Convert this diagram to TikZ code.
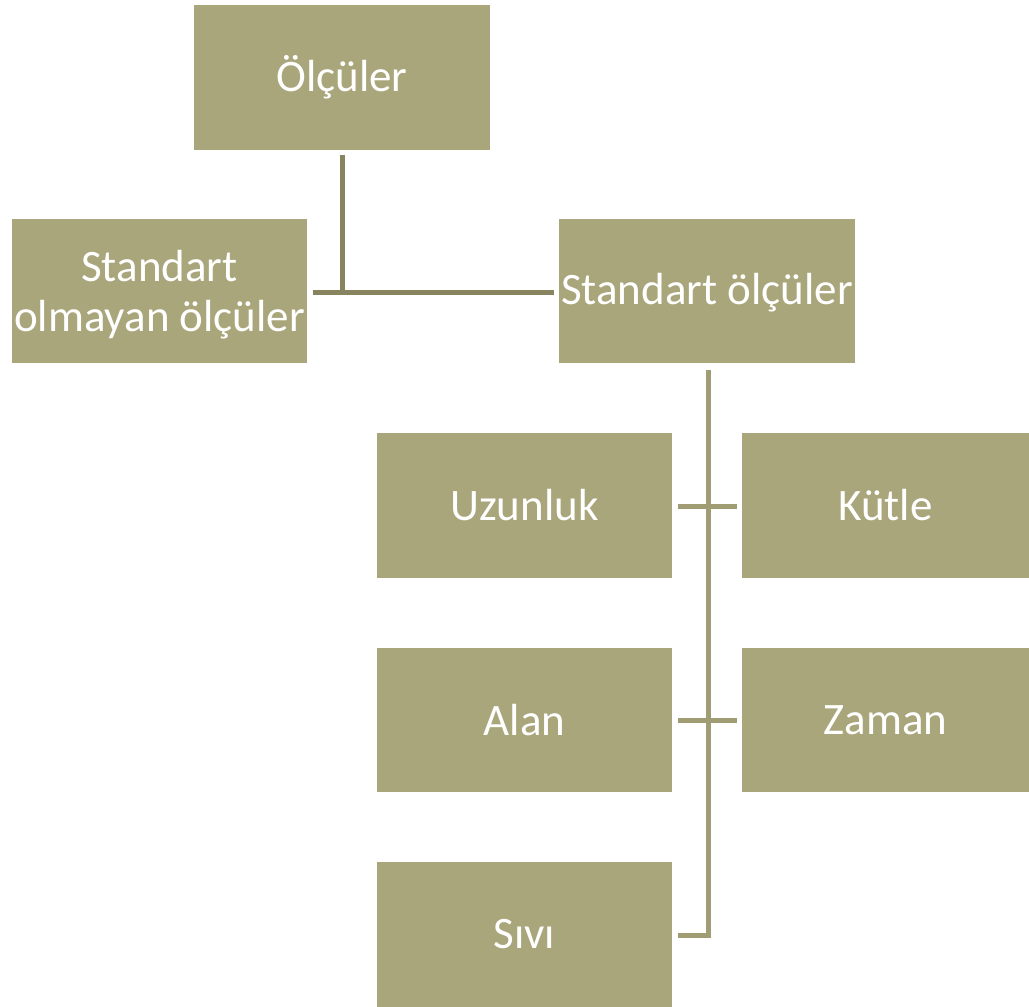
\documentclass[tikz,border=0pt]{standalone}
\usepackage{fontspec}
\setmainfont{Carlito}
\definecolor{boxfill}{HTML}{AAA67B}
\definecolor{lineA}{HTML}{87845F}
\definecolor{lineB}{HTML}{A09C74}
\begin{document}
\begin{tikzpicture}[x=1pt,y=-1pt,
  box/.style={fill=boxfill, draw=none, text=white, align=center, font=\fontsize{45}{50}\selectfont, inner sep=0pt},
  connA/.style={draw=lineA, line width=5pt},
  connB/.style={draw=lineB, line width=5pt}]
\useasboundingbox (0,0) rectangle (1029,1007);
\path[box] (194,5) rectangle (490,150) node[box, pos=0.5] (olc) {Ölçüler};
\path[box] (12,219) rectangle (307,363) node[box, pos=0.5, yshift=-4pt] (som) {Standart\\olmayan ölçüler};
\path[box] (559,219) rectangle (855,363) node[box, pos=0.5, yshift=-2pt] (so) {Standart ölçüler};
\path[box] (377,433) rectangle (672,578) node[box, pos=0.5] (uz) {Uzunluk};
\path[box] (742,433) rectangle (1029,578) node[box, pos=0.5] (ku) {Kütle};
\path[box] (377,648) rectangle (672,792) node[box, pos=0.5] (al) {Alan};
\path[box] (742,648) rectangle (1029,792) node[box, pos=0.5] (za) {Zaman};
\path[box] (377,862) rectangle (672,1007) node[box, pos=0.5] (si) {Sıvı};
\coordinate (t1) at (342,155);
\coordinate (t2) at (342,292);
\coordinate (hl) at (313,292);
\coordinate (hr) at (554,292);
\draw[connA] (t1) -- (t2);
\draw[connA] (hl) -- (hr);
\coordinate (v1) at (708,370);
\coordinate (v2) at (708,935);
\coordinate (s1) at (678,935);
\coordinate (a1) at (678,506);
\coordinate (a2) at (737,506);
\coordinate (b1) at (678,720);
\coordinate (b2) at (737,720);
\draw[connB] (v1) -- (v2) -- (s1);
\draw[connB] (a1) -- (a2);
\draw[connB] (b1) -- (b2);
\end{tikzpicture}
\end{document}
